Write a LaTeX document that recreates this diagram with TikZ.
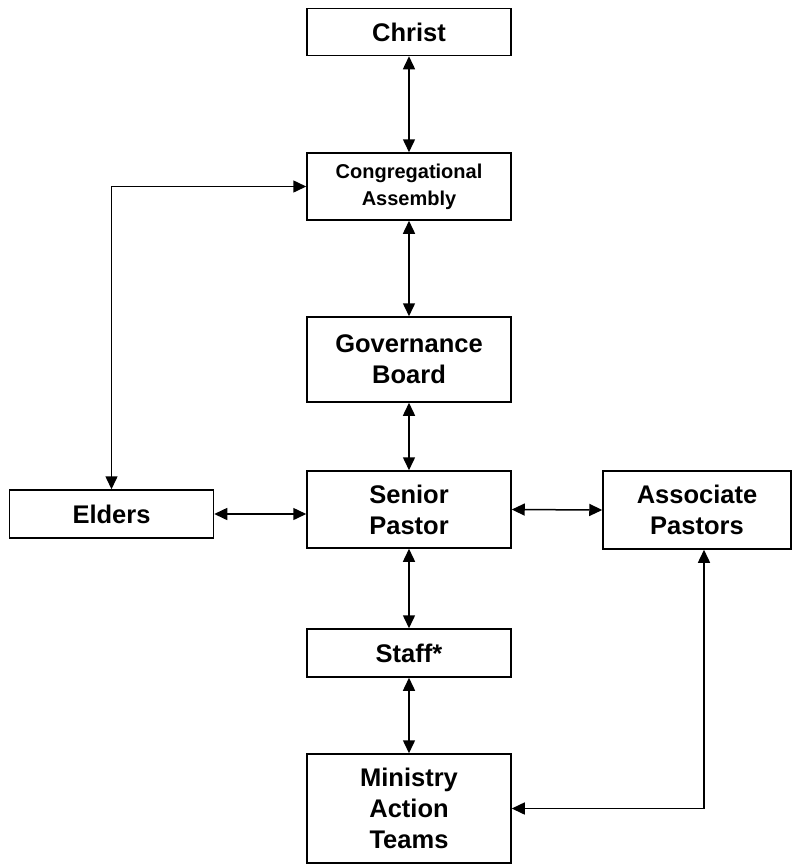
\documentclass[tikz,border=0pt]{standalone}
\usepackage{fontspec}
\setmainfont{Liberation Sans}
\usetikzlibrary{arrows.meta}

\tikzset{
  orgbox/.style={draw, line width=1.5pt, minimum width=204pt, align=center,
    inner sep=0pt, font=\fontsize{25.5}{31}\selectfont\bfseries},
  link/.style={line width=1.5pt, {Triangle[length=13pt,width=12pt]}-{Triangle[length=13pt,width=12pt]}}
}

\begin{document}
\begin{tikzpicture}[x=1pt,y=-1pt]
  \useasboundingbox (0,0) rectangle (793,865);
  % boxes
  \node[orgbox, minimum height=47pt] (christ) at (409,32) {Christ};
  \node[orgbox, minimum height=67pt, font=\fontsize{20}{27}\selectfont\bfseries]
    (assembly) at (409,186.5) {Congregational\\Assembly};
  \node[orgbox, minimum height=85pt] (board) at (409,359.5) {Governance\\Board};
  \node[orgbox, minimum height=77pt] (senior) at (409,509.5) {Senior\\Pastor};
  \node[orgbox, minimum height=48pt] (elders) at (111.5,514) {Elders};
  \node[orgbox, minimum height=78pt, minimum width=188pt] (assoc) at (697,510) {Associate\\Pastors};
  \node[orgbox, minimum height=48pt] (staff) at (409,653) {Staff*};
  \node[orgbox, minimum height=109pt] (teams) at (409,808.5) {Ministry\\Action\\Teams};
  % connectors
  \foreach \a/\b in {christ/assembly, assembly/board, board/senior, senior/staff, staff/teams}
    \draw[link] (\a) -- (\b);
  \draw[link] (assembly.west) -| (elders.north);
  \draw[link] (elders.east) -- (elders.east -| senior.west);
  \draw[link] (senior.east) -- (assoc.west);
  \draw[link] ([xshift=7pt]assoc.south) |- (teams.east);
\end{tikzpicture}
\end{document}
